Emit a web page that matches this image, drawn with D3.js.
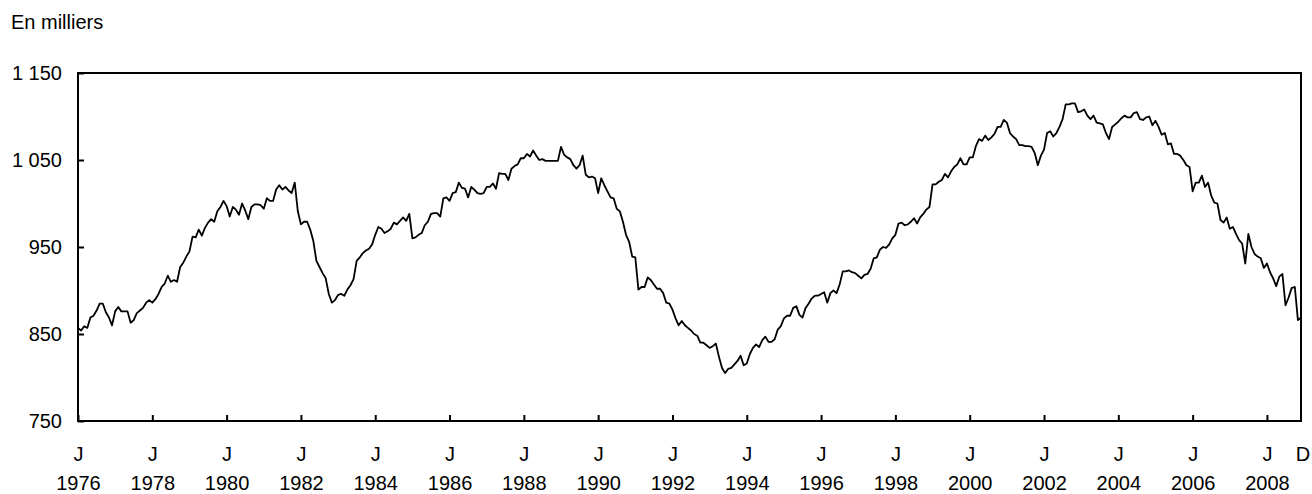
<!DOCTYPE html>
<html>
<head>
<meta charset="utf-8">
<script src="https://cdn.jsdelivr.net/npm/d3@7"></script>
<style>
  body { margin: 0; background: #fff; }
  text { font-family: "Liberation Sans", Arial, sans-serif; fill: #000; }
</style>
</head>
<body>
<svg id="chart" width="1312" height="494"></svg>
<script>
// Monthly values, January 1976 to December 2008 (thousands), one row per year
const values = [
  857, 854, 859, 857, 869, 871, 877, 885, 885, 875, 869, 860,        // 1976
  876, 881, 876, 876, 876, 863, 866, 874, 877, 880, 886, 889,        // 1977
  886, 890, 896, 904, 908, 917, 910, 912, 910, 927, 932, 939,        // 1978
  945, 962, 961, 970, 963, 972, 978, 982, 979, 991, 996, 1003,       // 1979
  997, 985, 996, 993, 987, 1000, 992, 982, 996, 999, 999, 998,       // 1980
  994, 1006, 1003, 1003, 1016, 1021, 1016, 1019, 1015, 1012, 1024, 991, // 1981
  976, 979, 979, 970, 957, 934, 927, 920, 914, 896, 886, 889,        // 1982
  895, 896, 894, 901, 906, 913, 934, 938, 943, 946, 948, 953,        // 1983
  964, 973, 971, 966, 968, 971, 978, 976, 980, 984, 980, 988,        // 1984
  960, 961, 964, 966, 975, 979, 988, 989, 989, 985, 1006, 1007,      // 1985
  1003, 1012, 1013, 1024, 1018, 1017, 1007, 1019, 1016, 1012, 1011, 1012, // 1986
  1019, 1019, 1023, 1017, 1035, 1034, 1034, 1027, 1040, 1043, 1045, 1052, // 1987
  1052, 1057, 1054, 1061, 1055, 1050, 1051, 1049, 1049, 1049, 1049, 1049, // 1988
  1065, 1056, 1053, 1051, 1044, 1040, 1044, 1055, 1033, 1030, 1031, 1029, // 1989
  1012, 1029, 1021, 1014, 1007, 1006, 994, 991, 979, 964, 956, 939,  // 1990
  938, 901, 904, 904, 915, 912, 907, 902, 902, 897, 886, 885,        // 1991
  878, 868, 860, 865, 860, 857, 854, 850, 848, 840, 840, 837,        // 1992
  834, 836, 839, 824, 811, 805, 810, 811, 815, 819, 825, 814,        // 1993
  816, 827, 834, 838, 835, 843, 847, 841, 841, 844, 855, 859,        // 1994
  868, 871, 871, 880, 882, 872, 869, 880, 885, 891, 894, 894,        // 1995
  896, 898, 886, 897, 900, 897, 907, 922, 922, 923, 921, 920,        // 1996
  917, 914, 918, 919, 925, 937, 938, 947, 950, 949, 953, 960,        // 1997
  964, 977, 978, 975, 976, 979, 983, 977, 984, 988, 993, 996,        // 1998
  1022, 1022, 1025, 1027, 1034, 1030, 1037, 1042, 1045, 1052, 1045, 1045, // 1999
  1053, 1053, 1066, 1074, 1072, 1078, 1073, 1076, 1080, 1088, 1088, 1096, // 2000
  1093, 1081, 1077, 1074, 1067, 1067, 1066, 1066, 1065, 1058, 1044, 1055, // 2001
  1062, 1081, 1083, 1077, 1081, 1088, 1097, 1114, 1114, 1115, 1115, 1105, // 2002
  1106, 1108, 1101, 1097, 1101, 1093, 1092, 1091, 1081, 1074, 1088, 1091, // 2003
  1094, 1098, 1101, 1099, 1099, 1104, 1105, 1097, 1096, 1099, 1100, 1090, // 2004
  1095, 1088, 1079, 1081, 1068, 1069, 1057, 1057, 1055, 1050, 1044, 1042, // 2005
  1014, 1024, 1024, 1032, 1019, 1024, 1009, 1001, 1000, 981, 978, 984,   // 2006
  971, 973, 965, 958, 954, 931, 965, 950, 942, 939, 937, 926,        // 2007
  931, 921, 914, 905, 916, 919, 883, 892, 903, 904, 866, 869         // 2008
];

const START_YEAR = 1976;
const tickYears = d3.range(1976, 2009, 2);
const yTicks = [750, 850, 950, 1050, 1150];
const yTickLabels = ["750", "850", "950", "1 050", "1 150"];
const unitLabel = "En milliers";

const FONT_SIZE = 20;
const plot = { left: 78, right: 1301, top: 73, bottom: 421 };

const svg = d3.select("#chart");

const x = d3.scaleLinear().domain([0, values.length - 1]).range([plot.left, plot.right]);
const y = d3.scaleLinear().domain([750, 1150]).range([plot.bottom, plot.top]);

svg.append("text")
  .attr("x", 11)
  .attr("y", 29)
  .attr("font-size", FONT_SIZE)
  .text(unitLabel);

// y axis, ticks pointing inward
const yAxis = d3.axisLeft(y)
  .tickValues(yTicks)
  .tickSize(-6)
  .tickPadding(16)
  .tickFormat((d, i) => yTickLabels[i]);

svg.append("g")
  .attr("transform", `translate(${plot.left},0)`)
  .call(yAxis)
  .call(g => g.select(".domain").remove())
  .call(g => g.selectAll("line").attr("stroke", "#000").attr("stroke-width", 2))
  .call(g => g.selectAll("text").attr("font-size", FONT_SIZE).attr("font-family", null));

// x axis: one tick every second January
const monthOf = (year) => (year - START_YEAR) * 12;
const xAxis = d3.axisBottom(x)
  .tickValues(tickYears.map(monthOf))
  .tickSize(-6)
  .tickFormat("");

const xg = svg.append("g")
  .attr("transform", `translate(0,${plot.bottom})`)
  .call(xAxis)
  .call(g => g.select(".domain").remove())
  .call(g => g.selectAll("line").attr("stroke", "#000").attr("stroke-width", 2));

xg.selectAll(".tick").each(function (d, i) {
  const t = d3.select(this);
  t.append("text").attr("y", 33).attr("dy", "0.35em")
    .attr("font-size", FONT_SIZE).attr("text-anchor", "middle").text("J");
  t.append("text").attr("y", 62).attr("dy", "0.35em")
    .attr("font-size", FONT_SIZE).attr("text-anchor", "middle").text(tickYears[i]);
});

svg.append("text")
  .attr("x", x(values.length - 1) + 2)
  .attr("y", plot.bottom + 33)
  .attr("dy", "0.35em")
  .attr("font-size", FONT_SIZE)
  .attr("text-anchor", "middle")
  .text("D");

// series
const line = d3.line()
  .x((d, i) => x(i))
  .y(d => y(d));

svg.append("path")
  .datum(values)
  .attr("fill", "none")
  .attr("stroke", "#000")
  .attr("stroke-width", 1.8)
  .attr("stroke-linejoin", "round")
  .attr("d", line);

// frame
svg.append("rect")
  .attr("x", plot.left)
  .attr("y", plot.top)
  .attr("width", plot.right - plot.left)
  .attr("height", plot.bottom - plot.top)
  .attr("fill", "none")
  .attr("stroke", "#000")
  .attr("stroke-width", 2);
</script>
</body>
</html>
